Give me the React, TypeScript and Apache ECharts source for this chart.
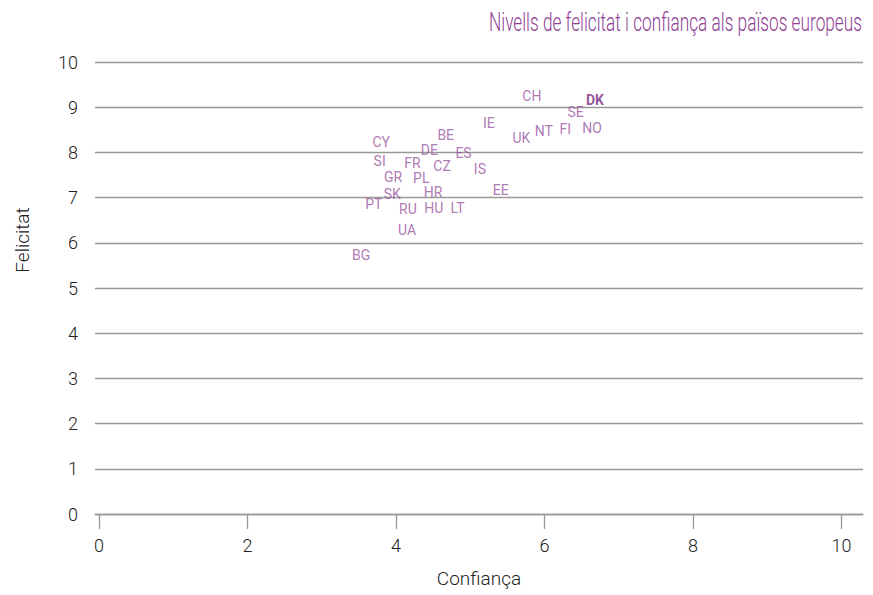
import React, { useEffect, useRef } from "react";
import * as echarts from "echarts";

const countries = ["CH","DK","SE","NO","FI","NT","UK","IE","BE","CY","DE","ES","SI","FR","CZ","IS","GR","PL","HR","EE","SK","PT","RU","HU","LT","UA","BG"];
const trust = [5.83,6.68,6.42,6.64,6.28,5.99,5.69,5.25,4.67,3.80,4.45,4.91,3.78,4.22,4.62,5.13,3.96,4.34,4.50,5.41,3.95,3.70,4.16,4.51,4.83,4.15,3.53];
const happiness = [9.25,9.17,8.89,8.55,8.52,8.47,8.31,8.64,8.38,8.22,8.05,7.98,7.80,7.76,7.71,7.63,7.45,7.43,7.12,7.17,7.07,6.85,6.75,6.76,6.76,6.28,5.73];
const highlight = "DK";
const xTicks = [0, 2, 4, 6, 8, 10];
const titleText = "Nivells de felicitat i confiança als països europeus";
const xName = "Confiança";
const yName = "Felicitat";

const FONT = "Roboto";

export default function App() {
  const ref = useRef<HTMLDivElement>(null);
  useEffect(() => {
    if (!ref.current) return;
    const chart = echarts.init(ref.current, null, { renderer: "svg" });
    const data = countries.map((c, i) => {
      const hl = c === highlight;
      return {
        name: c,
        value: [trust[i], happiness[i]],
        label: hl ? { fontWeight: "bold", color: "#7a2a7f" } : undefined,
      };
    });
    chart.setOption({
      animation: false,
      textStyle: { fontFamily: FONT },
      grid: { left: 95, right: 10, top: 62, bottom: 81, containLabel: false },
      xAxis: {
        type: "value",
        min: -0.054,
        max: 10.29,
        name: xName,
        nameLocation: "middle",
        nameGap: 55,
        nameTextStyle: { fontFamily: FONT, fontWeight: 300, fontSize: 19, color: "#222" },
        axisLine: { show: true, lineStyle: { color: "#999", width: 1.3 } },
        axisTick: { show: true, length: 15, customValues: xTicks, lineStyle: { color: "#999", width: 1.3 } },
        axisLabel: { customValues: xTicks, margin: 22, fontSize: 18, fontWeight: 300, color: "#222", fontFamily: FONT },
        splitLine: { show: false },
      },
      yAxis: {
        type: "value",
        min: 0,
        max: 10,
        interval: 1,
        axisLine: { show: false },
        axisTick: { show: false },
        axisLabel: { margin: 17, fontSize: 18, fontWeight: 300, color: "#222", fontFamily: FONT },
        splitLine: { show: true, lineStyle: { color: "#999", width: 1.3 } },
      },
      graphic: [
        {
          type: "text",
          x: 862,
          y: 22,
          scaleX: 0.69,
          style: {
            text: titleText,
            fontFamily: FONT,
            fontWeight: 300,
            fontSize: 25,
            fill: "#8f3f95",
            align: "right",
            verticalAlign: "middle",
          },
        },
        {
          type: "text",
          x: 22,
          y: 240,
          rotation: Math.PI / 2,
          style: {
            text: yName,
            fontFamily: FONT,
            fontWeight: 300,
            fontSize: 19,
            fill: "#222",
            align: "center",
            verticalAlign: "middle",
          },
        },
      ],
      series: [
        {
          type: "scatter",
          symbolSize: 0,
          data,
          label: {
            show: true,
            position: "inside",
            formatter: "{b}",
            fontFamily: FONT,
            fontSize: 14,
            fontWeight: "normal",
            color: "#9a569f",
          },
        },
      ],
    });
    return () => chart.dispose();
  }, []);
  return <div ref={ref} style={{ width: 873, height: 595, position: "absolute", left: 0, top: 0 }} />;
}
